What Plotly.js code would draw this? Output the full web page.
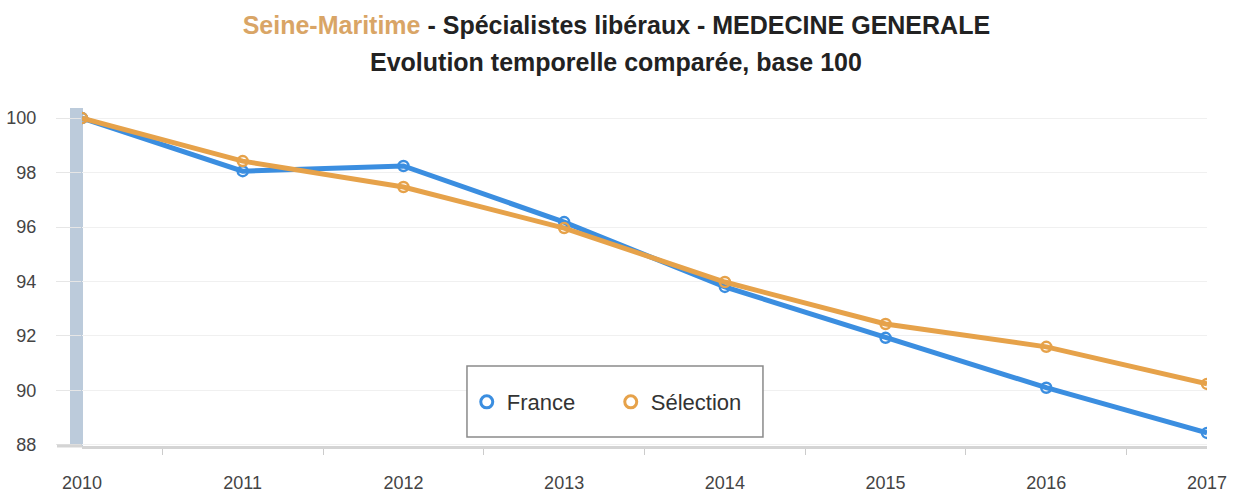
<!DOCTYPE html>
<html>
<head>
<meta charset="utf-8">
<script src="https://cdn.plot.ly/plotly-3.0.1.min.js"></script>
<style>html,body{margin:0;padding:0;background:#fff;}#chart{width:1234px;height:493px;}</style>
</head>
<body>
<div id="chart"></div>
<script>
const years = [2010, 2011, 2012, 2013, 2014, 2015, 2016, 2017];
const yearLabels = ["2010", "2011", "2012", "2013", "2014", "2015", "2016", "2017"];
const franceValues = [100, 98.05, 98.24, 96.18, 93.8, 91.93, 90.1, 88.44];
const selectionValues = [100, 98.42, 97.47, 95.96, 93.98, 92.44, 91.6, 90.24];
const yTicks = [88, 90, 92, 94, 96, 98, 100];
const seriesNames = ["France", "Sélection"];
const seriesColors = ['#3b8ee0', '#e6a24a'];

const FONT = '"Liberation Sans", Arial, sans-serif';

const traces = [];
[franceValues, selectionValues].forEach(function (vals, i) {
  traces.push({
    x: years, y: vals, name: seriesNames[i], type: 'scatter', mode: 'lines+markers',
    showlegend: false,
    line: {color: seriesColors[i], width: 5},
    marker: {symbol: 'circle-open', size: 10, color: seriesColors[i], line: {width: 2.5}}
  });
});
// legend entries: marker only
[0, 1].forEach(function (i) {
  traces.push({
    x: [null], y: [null], name: seriesNames[i], type: 'scatter', mode: 'markers',
    showlegend: true,
    marker: {symbol: 'circle-open', size: 12, color: seriesColors[i], line: {width: 3}}
  });
});

const layout = {
  width: 1234, height: 493,
  margin: {l: 82, r: 27, t: 108, b: 47},
  paper_bgcolor: '#fff', plot_bgcolor: '#fff',
  font: {family: FONT, color: '#333'},
  title: {
    text: '<span style="color:#d9a566">Seine-Maritime</span> - Spécialistes libéraux - MEDECINE GENERALE',
    font: {family: FONT, size: 25, color: '#222', weight: 'bold'},
    x: 0.475, xanchor: 'center', xref: 'paper', y: 0.949, yanchor: 'middle', yref: 'container'
  },
  annotations: [{
    text: 'Evolution temporelle comparée, base 100',
    xref: 'paper', yref: 'paper', x: 0.475, y: 1.136, xanchor: 'center', yanchor: 'middle',
    showarrow: false, font: {family: FONT, size: 25, color: '#222', weight: 'bold'}
  }],
  xaxis: {
    range: [2010, 2017],
    tickvals: years, ticktext: yearLabels,
    ticks: '', showgrid: false, zeroline: false,
    showline: true, linecolor: '#d4d4d4', linewidth: 3,
    tickfont: {family: FONT, size: 18, color: '#444'},
    ticklabelstandoff: 18,
    minor: {ticks: 'outside', tick0: 2010.5, dtick: 1, ticklen: 6, tickcolor: '#cccccc', showgrid: false}
  },
  yaxis: {
    range: [87.96, 100.37],
    tickvals: yTicks, ticktext: yTicks.map(String),
    ticks: 'outside', ticklen: 25, tickcolor: '#e6e6e6',
    showgrid: true, gridcolor: '#f0f0f0', zeroline: false, showline: false,
    tickfont: {family: FONT, size: 18, color: '#444'},
    ticklabelstandoff: 16
  },
  shapes: [
    {
      type: 'rect', xref: 'paper', xsizemode: 'pixel', xanchor: 0, x0: -12, x1: 1,
      yref: 'paper', y0: 0, y1: 1,
      fillcolor: '#bccbdb', line: {width: 0}, layer: 'below'
    },
    {
      type: 'line', xref: 'paper', xsizemode: 'pixel', xanchor: 0, x0: -25, x1: 0,
      yref: 'paper', y0: 0, y1: 0, line: {color: '#d4d4d4', width: 3}
    },
    {
      type: 'rect', xref: 'paper', yref: 'paper',
      x0: 0.3422, x1: 0.6053, y0: 0.0266, y1: 0.2367,
      fillcolor: '#fff', line: {color: '#8a8a8a', width: 1.5}, layer: 'above'
    }
  ],
  showlegend: true,
  legend: {
    orientation: 'h', x: 0.342, y: 0.130, xanchor: 'left', yanchor: 'middle',
    bgcolor: 'rgba(0,0,0,0)', borderwidth: 0,
    font: {family: FONT, size: 22, color: '#333'},
    entrywidth: 99, entrywidthmode: 'pixels'
  }
};

Plotly.newPlot('chart', traces, layout, {displayModeBar: false, staticPlot: true});
</script>
</body>
</html>
